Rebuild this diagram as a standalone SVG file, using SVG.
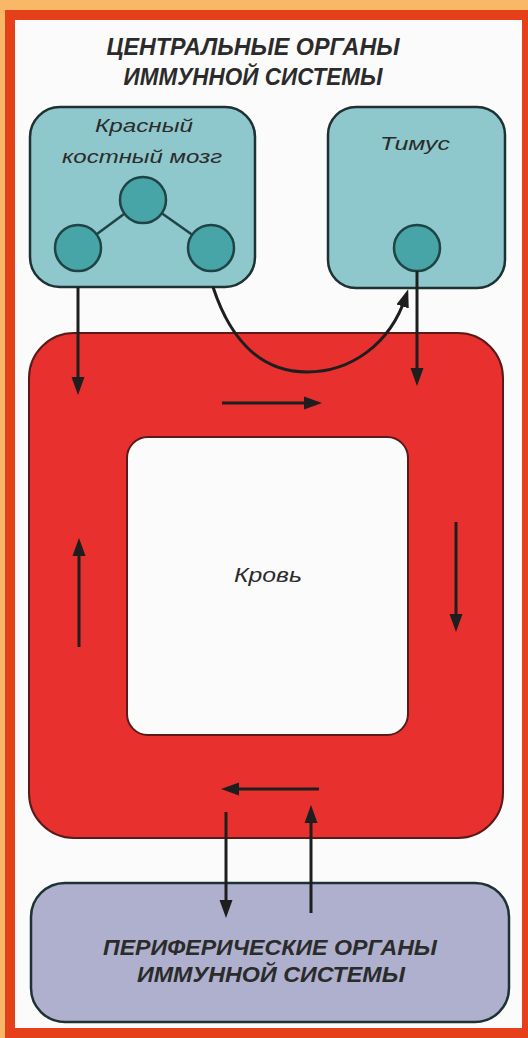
<svg xmlns="http://www.w3.org/2000/svg" width="528" height="1038" viewBox="0 0 528 1038">
<defs>
<style>
.lbl{font-family:"Liberation Sans","DejaVu Sans",sans-serif;font-style:italic;fill:#2b2b2b}
.head{font-weight:bold;font-size:23px}
.box{stroke:#1f3233;stroke-width:2.5}
.teal{fill:#8ec7cc}
.cell{fill:#47a5a8;stroke:#1f4446;stroke-width:2.5}
.conn{fill:none;stroke:#1e1e1e;stroke-width:3}
</style>
<marker id="ah" markerUnits="userSpaceOnUse" markerWidth="20" markerHeight="14" refX="11" refY="7" orient="auto">
<path d="M0,0.5 L18,7 L0,13.5 Z" fill="#1e1e1e"/>
</marker>
</defs>
<rect x="0" y="0" width="528" height="1038" fill="#f8b868"/>
<rect x="5" y="10" width="523" height="1028" fill="#e5401a"/>
<rect x="15" y="20" width="507" height="1008" fill="#fbfbfb"/>

<g id="title">
<text class="lbl head" x="253" y="55" text-anchor="middle" textLength="293" lengthAdjust="spacingAndGlyphs">ЦЕНТРАЛЬНЫЕ ОРГАНЫ</text>
<text class="lbl head" x="253" y="85" text-anchor="middle" textLength="259" lengthAdjust="spacingAndGlyphs">ИММУННОЙ СИСТЕМЫ</text>
</g>

<g id="blood">
<path fill-rule="evenodd" fill="#e8302f" stroke="#5a1a1a" stroke-width="2" d="M74,333 H458 A45,45 0 0 1 503,378 V793 A45,45 0 0 1 458,838 H74 A45,45 0 0 1 29,793 V378 A45,45 0 0 1 74,333 Z M148,437 H387 A21,21 0 0 1 408,458 V714 A21,21 0 0 1 387,735 H148 A21,21 0 0 1 127,714 V458 A21,21 0 0 1 148,437 Z"/>
<text class="lbl" x="268" y="582" font-size="20" text-anchor="middle" textLength="68" lengthAdjust="spacingAndGlyphs">Кровь</text>
</g>

<g id="bone-marrow">
<rect class="box teal" x="30" y="107" width="225" height="180" rx="30"/>
<text class="lbl" x="144" y="132" font-size="19" text-anchor="middle" textLength="98" lengthAdjust="spacingAndGlyphs">Красный</text>
<text class="lbl" x="142" y="163" font-size="19" text-anchor="middle" textLength="160" lengthAdjust="spacingAndGlyphs">костный мозг</text>
<line x1="143" y1="200" x2="78" y2="248" stroke="#1f4446" stroke-width="2.5"/>
<line x1="143" y1="200" x2="211" y2="248" stroke="#1f4446" stroke-width="2.5"/>
<circle class="cell" cx="143" cy="200" r="23"/>
<circle class="cell" cx="78" cy="248" r="23"/>
<circle class="cell" cx="211" cy="248" r="23"/>
</g>

<g id="thymus">
<rect class="box teal" x="328" y="107" width="177" height="181" rx="28"/>
<text class="lbl" x="415" y="150" font-size="19" text-anchor="middle" textLength="70" lengthAdjust="spacingAndGlyphs">Тимус</text>
<circle class="cell" cx="417" cy="248" r="23"/>
</g>

<g id="peripheral">
<rect class="box" fill="#aeb0cd" x="31" y="883" width="478" height="139" rx="34"/>
<text class="lbl head" x="270" y="955" text-anchor="middle" textLength="334" lengthAdjust="spacingAndGlyphs" style="font-size:22px">ПЕРИФЕРИЧЕСКИЕ ОРГАНЫ</text>
<text class="lbl head" x="271" y="982" text-anchor="middle" textLength="268" lengthAdjust="spacingAndGlyphs" style="font-size:22px">ИММУННОЙ СИСТЕМЫ</text>
</g>

<g id="connectors">
<line class="conn" x1="78" y1="287" x2="78" y2="388" marker-end="url(#ah)"/>
<path class="conn" d="M213,287 C232,345 265,372 307,372 C350,372 390,345 406,296" marker-end="url(#ah)"/>
<line class="conn" x1="417" y1="271" x2="417" y2="379" stroke-width="4.5" marker-end="url(#ah)"/>
<line class="conn" x1="222" y1="403" x2="315" y2="403" marker-end="url(#ah)"/>
<line class="conn" x1="456" y1="522" x2="456" y2="625" marker-end="url(#ah)"/>
<line class="conn" x1="79" y1="647" x2="79" y2="545" marker-end="url(#ah)"/>
<line class="conn" x1="319" y1="789" x2="228" y2="789" marker-end="url(#ah)"/>
<line class="conn" x1="226" y1="812" x2="226" y2="911" marker-end="url(#ah)"/>
<line class="conn" x1="311" y1="913" x2="311" y2="812" marker-end="url(#ah)"/>
</g>
</svg>
